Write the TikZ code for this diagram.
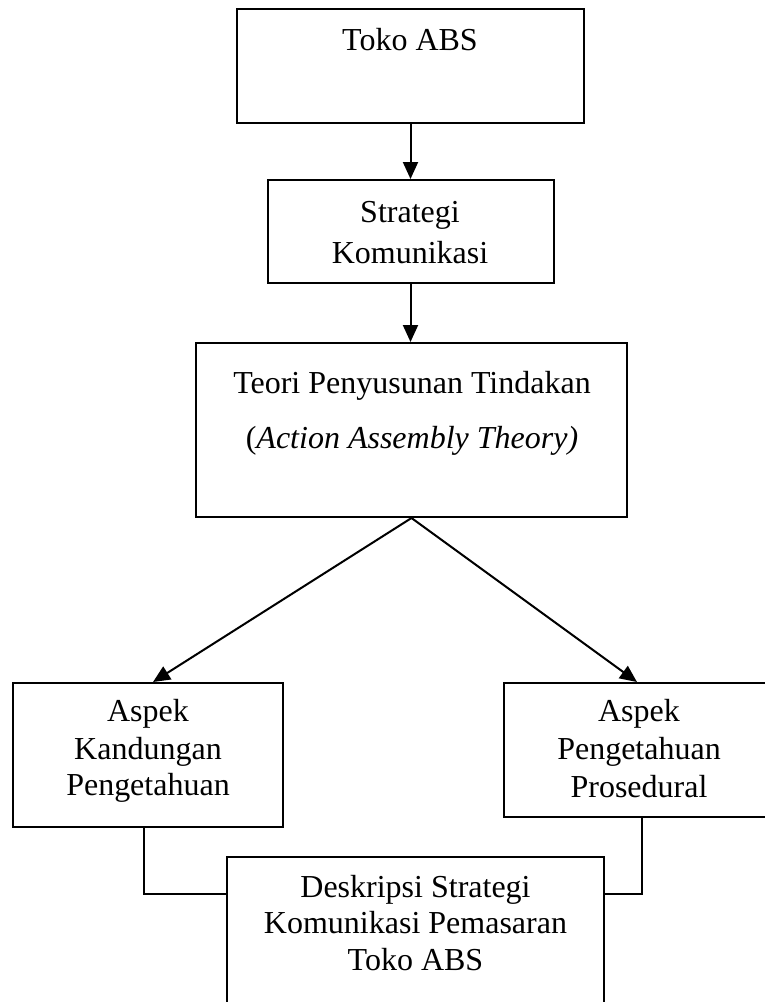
\documentclass[tikz,border=0pt]{standalone}
\usepackage{fontspec}
\setmainfont{Liberation Serif}
\usetikzlibrary{arrows.meta,calc}
\begin{document}
\begin{tikzpicture}[x=1pt,y=-1pt,
  box/.style={draw,line width=2pt,rectangle,inner sep=0pt},
  lbl/.style={anchor=base,inner sep=0pt,font=\fontsize{32}{37}\selectfont},
  arr/.style={line width=2pt,-{Triangle[length=17pt,width=15pt]}},
  link/.style={line width=1.4pt}]
\useasboundingbox (0,0) rectangle (765,1002);
\clip (0,0) rectangle (765,1002);
% boxes
\node[box,minimum width=347pt,minimum height=114pt] (b1) at (410.5,66) {};
\node[box,minimum width=286pt,minimum height=103pt] (b2) at (410.5,231.5) {};
\node[box,minimum width=431pt,minimum height=174pt] (b3) at (411.5,430) {};
\node[box,minimum width=270pt,minimum height=144pt] (b4) at (148,755) {};
\node[box,minimum width=270pt,minimum height=134pt] (b5) at (639,750) {};
\node[box,minimum width=377pt,minimum height=183pt] (b6) at (415.5,948.5) {};
% texts
\node[lbl] (t1) at (410,50) {Toko ABS};
\node[lbl] (t2a) at (410,222) {Strategi};
\node[lbl] (t2b) at (410,263) {Komunikasi};
\node[lbl] (t3a) at (412,393) {Teori Penyusunan Tindakan};
\node[lbl] (t3b) at (412,448) {(\textit{Action Assembly Theory)}};
\node[lbl] (t4a) at (148,721.5) {Aspek};
\node[lbl] (t4b) at (148,759) {Kandungan};
\node[lbl] (t4c) at (148,795.5) {Pengetahuan};
\node[lbl] (t5a) at (639,721.5) {Aspek};
\node[lbl] (t5b) at (639,759) {Pengetahuan};
\node[lbl] (t5c) at (639,797) {Prosedural};
\node[lbl] (t6a) at (415.5,897) {Deskripsi Strategi};
\node[lbl] (t6b) at (415.5,933.5) {Komunikasi Pemasaran};
\node[lbl] (t6c) at (415.5,970.5) {Toko ABS};
% connectors
\draw[arr] (b1.south) -- (b2.north);
\draw[arr] (b2.south) -- (b2.south |- b3.north);
\draw[arr] (b3.south) -- ($(b4.north)+(5,0)$);
\draw[arr] (b3.south) -- ($(b5.north)+(-2,0)$);
\draw[link] ($(b4.south)+(-4,0)$) |- ($(b6.west)+(0,-54.5)$);
\draw[link] ($(b5.south)+(3,0)$) |- ($(b6.east)+(0,-54.5)$);
\end{tikzpicture}
\end{document}
